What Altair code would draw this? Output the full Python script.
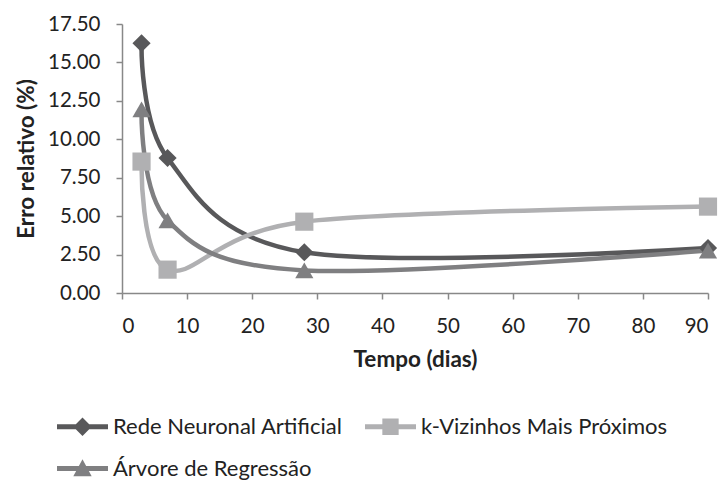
import altair as alt
import pandas as pd

# Tempo de previsão (dias) e erro relativo (%) de cada modelo
dias = [3, 7, 28, 90]
rna = [16.25, 8.78, 2.65, 2.92]
knn = [8.55, 1.52, 4.64, 5.62]
arvore = [11.95, 4.72, 1.47, 2.76]

series = ["Rede Neuronal Artificial", "k-Vizinhos Mais Próximos", "Árvore de Regressão"]
cores = ["#58585a", "#b0b0b2", "#7f7f81"]
formas = ["diamond", "square", "triangle-up"]

# Símbolos da legenda: traço horizontal com o marcador ao centro
linha = "M-1,-0.1 L1,-0.1 L1,0.1 L-1,0.1 Z "
formas_legenda = [
    linha + "M0,-0.36 L0.36,0 L0,0.36 L-0.36,0 Z",
    linha + "M-0.32,-0.32 L0.32,-0.32 L0.32,0.32 L-0.32,0.32 Z",
    linha + "M0,-0.36 L0.36,0.3 L-0.36,0.3 Z",
]

rows = []
for nome, valores in zip(series, [rna, knn, arvore]):
    for d, v in zip(dias, valores):
        rows.append({"serie": nome, "dias": d, "erro": v})
df = pd.DataFrame(rows)

FONT = "Lato"

x = alt.X("dias:Q", scale=alt.Scale(domain=[0, 90], nice=False),
          axis=alt.Axis(title="Tempo (dias)", values=list(range(0, 91, 10)), format="d",
                        labelPadding=17, titlePadding=12))
y = alt.Y("erro:Q", scale=alt.Scale(domain=[0, 17.5], nice=False),
          axis=alt.Axis(title="Erro relativo (%)", values=[i * 2.5 for i in range(8)],
                        format=".2f", labelPadding=16, titlePadding=9))
cor = alt.Color("serie:N", scale=alt.Scale(domain=series, range=cores), legend=None)

linhas = alt.Chart(df).mark_line(interpolate="cardinal", strokeWidth=4.5).encode(
    x=x, y=y, color=cor, detail="serie:N")

pontos = alt.Chart(df).mark_point(filled=True, opacity=1, size=330).encode(
    x=x, y=y, color=cor,
    shape=alt.Shape("serie:N", scale=alt.Scale(domain=series, range=formas), legend=None))


def legenda_cfg():
    return alt.Legend(title=None, orient="none", legendX=-65, legendY=377,
                      direction="horizontal", columns=2, symbolSize=2601, symbolOpacity=1,
                      labelFontSize=22, labelFont=FONT, labelColor="#222",
                      labelLimit=400, labelOffset=5, columnPadding=22, rowPadding=5,
                      symbolStrokeWidth=0)


legenda = alt.Chart(df).mark_point(filled=True, opacity=0).encode(
    x=x, y=y,
    color=alt.Color("serie:N", scale=alt.Scale(domain=series, range=cores),
                    legend=legenda_cfg()),
    shape=alt.Shape("serie:N", scale=alt.Scale(domain=series, range=formas_legenda),
                    legend=legenda_cfg()),
)

base = alt.layer(linhas, pontos).resolve_scale(color="shared")

chart = alt.layer(base, legenda).resolve_scale(
    shape="independent", color="independent"
).resolve_legend(shape="independent", color="independent").properties(
    width=586, height=269,
    autosize=alt.AutoSizeParams(type="none"),
    padding={"left": 122, "top": 24, "right": 13, "bottom": 189},
).configure_view(stroke=None).configure_axis(
    grid=False, domainColor="#888", domainWidth=1.5, tickColor="#888", tickWidth=1.5,
    tickSize=6, labelFont=FONT, labelFontSize=20.5, labelColor="#222",
    titleFont=FONT, titleFontSize=22.5, titleFontWeight="bold", titleColor="#222",
)

chart.save("out.html", embed_options={"renderer": "svg", "actions": False})
